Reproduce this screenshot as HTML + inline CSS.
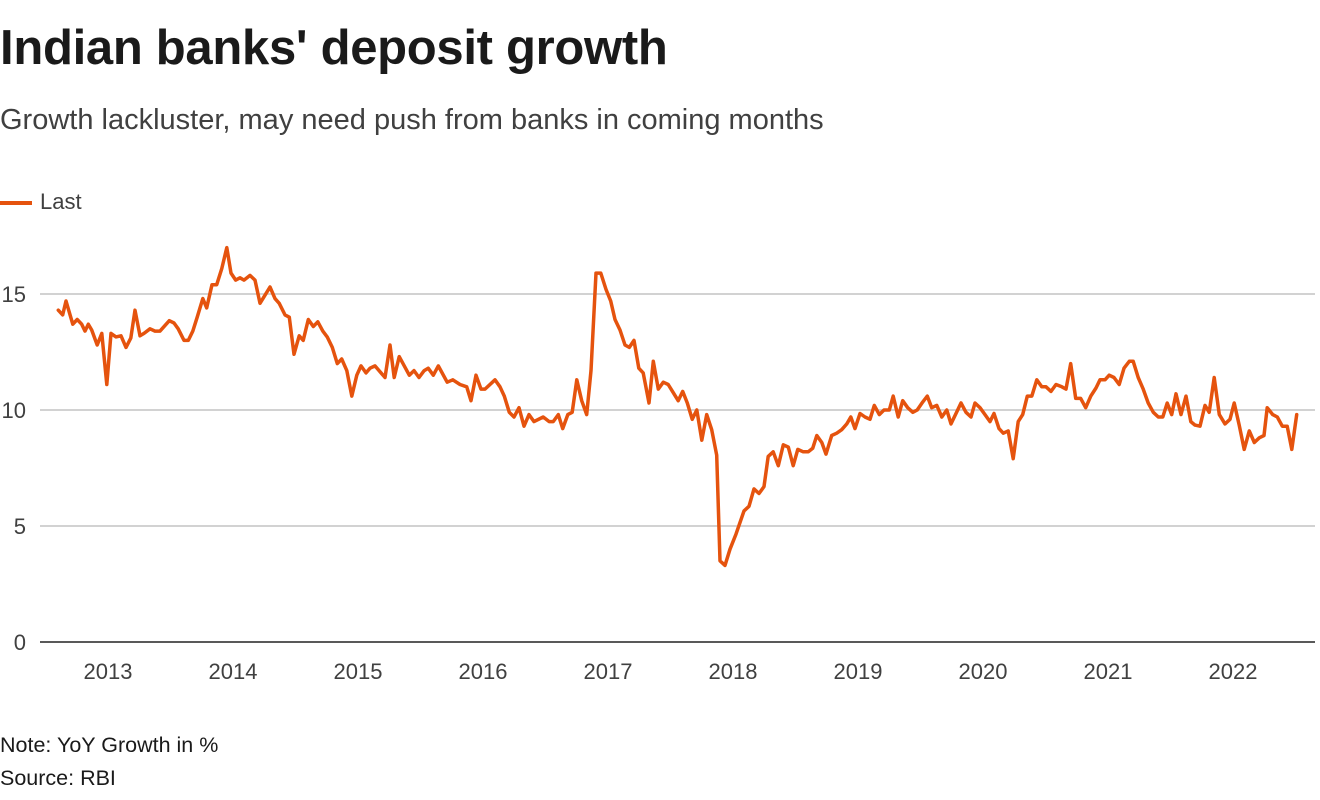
<!DOCTYPE html>
<html><head><meta charset="utf-8"><style>
body{margin:0;background:#fff;font-family:"Liberation Sans",sans-serif;color:#1a1a1a}
#wrap{position:relative;width:1320px;height:800px;overflow:hidden}
.t{position:absolute;white-space:nowrap}
</style></head><body>
<div id="wrap">
<div class="t" style="left:0;top:20px;font-size:49px;font-weight:bold;letter-spacing:-0.3px">Indian banks' deposit growth</div>
<div class="t" style="left:0;top:104px;font-size:29px;color:#404040">Growth lackluster, may need push from banks in coming months</div>
<div class="t" style="left:0;top:189px;font-size:22px;color:#404040"><span style="display:inline-block;width:32px;height:4px;background:#e5530e;vertical-align:middle;margin-right:8px"></span>Last</div>
<svg id="chart" width="1320" height="800" style="position:absolute;left:0;top:0"></svg>
<div class="t" style="left:0;top:733px;font-size:21.5px">Note: YoY Growth in %</div>
<div class="t" style="left:0;top:766px;font-size:21.5px">Source: RBI</div>
</div>
<script>
const dates=[2012.602,2012.638,2012.664,2012.718,2012.754,2012.790,2012.816,2012.842,2012.870,2012.914,2012.950,2012.990,2013.024,2013.064,2013.104,2013.144,2013.182,2013.216,2013.256,2013.288,2013.336,2013.376,2013.416,2013.490,2013.528,2013.562,2013.608,2013.642,2013.678,2013.714,2013.758,2013.790,2013.832,2013.870,2013.910,2013.950,2013.984,2014.022,2014.056,2014.088,2014.136,2014.176,2014.216,2014.250,2014.296,2014.336,2014.370,2014.416,2014.450,2014.488,2014.530,2014.562,2014.602,2014.642,2014.678,2014.718,2014.754,2014.794,2014.834,2014.870,2014.910,2014.950,2014.990,2015.024,2015.064,2015.096,2015.136,2015.216,2015.256,2015.290,2015.330,2015.410,2015.448,2015.488,2015.530,2015.562,2015.602,2015.642,2015.714,2015.758,2015.816,2015.870,2015.904,2015.944,2015.984,2016.016,2016.096,2016.136,2016.170,2016.210,2016.248,2016.288,2016.328,2016.368,2016.408,2016.482,2016.530,2016.562,2016.602,2016.638,2016.678,2016.714,2016.750,2016.790,2016.830,2016.864,2016.904,2016.942,2016.984,2017.022,2017.056,2017.096,2017.136,2017.170,2017.208,2017.246,2017.282,2017.328,2017.362,2017.402,2017.442,2017.482,2017.522,2017.562,2017.598,2017.634,2017.674,2017.710,2017.750,2017.790,2017.830,2017.870,2017.896,2017.936,2017.976,2018.024,2018.088,2018.128,2018.168,2018.208,2018.248,2018.282,2018.322,2018.362,2018.402,2018.442,2018.482,2018.518,2018.562,2018.602,2018.638,2018.670,2018.710,2018.744,2018.790,2018.830,2018.870,2018.910,2018.942,2018.976,2019.016,2019.056,2019.096,2019.130,2019.170,2019.208,2019.250,2019.282,2019.322,2019.358,2019.398,2019.438,2019.474,2019.518,2019.554,2019.590,2019.630,2019.670,2019.710,2019.744,2019.784,2019.824,2019.864,2019.904,2019.936,2019.976,2020.016,2020.056,2020.088,2020.128,2020.162,2020.202,2020.242,2020.282,2020.318,2020.354,2020.390,2020.430,2020.470,2020.504,2020.544,2020.584,2020.630,2020.664,2020.702,2020.742,2020.782,2020.822,2020.862,2020.904,2020.936,2020.976,2021.010,2021.048,2021.090,2021.128,2021.170,2021.202,2021.242,2021.282,2021.322,2021.362,2021.402,2021.438,2021.474,2021.510,2021.544,2021.584,2021.624,2021.662,2021.696,2021.736,2021.776,2021.810,2021.850,2021.890,2021.936,2021.976,2022.010,2022.050,2022.090,2022.130,2022.170,2022.210,2022.248,2022.274,2022.318,2022.354,2022.394,2022.434,2022.470,2022.510];
const values=[14.3,14.1,14.7,13.7,13.9,13.7,13.4,13.7,13.45,12.8,13.3,11.1,13.3,13.15,13.2,12.7,13.1,14.3,13.2,13.3,13.5,13.4,13.4,13.85,13.75,13.5,13.0,13.0,13.4,14.0,14.8,14.4,15.4,15.4,16.1,17.0,15.9,15.6,15.7,15.6,15.8,15.6,14.6,14.9,15.3,14.8,14.6,14.1,14.0,12.4,13.2,13.0,13.9,13.6,13.8,13.4,13.15,12.7,12.0,12.2,11.7,10.6,11.5,11.9,11.6,11.8,11.9,11.4,12.8,11.4,12.3,11.5,11.7,11.4,11.7,11.8,11.5,11.9,11.2,11.3,11.1,11.0,10.4,11.5,10.9,10.9,11.3,11.0,10.6,9.9,9.7,10.1,9.3,9.8,9.5,9.7,9.5,9.5,9.8,9.2,9.8,9.9,11.3,10.4,9.8,11.7,15.9,15.9,15.2,14.7,13.9,13.45,12.8,12.7,13.0,11.8,11.6,10.3,12.1,10.9,11.2,11.1,10.75,10.4,10.8,10.3,9.6,10.0,8.7,9.8,9.15,8.05,3.5,3.3,4.0,4.65,5.65,5.85,6.6,6.4,6.7,8.0,8.2,7.6,8.5,8.4,7.6,8.3,8.2,8.2,8.35,8.9,8.6,8.1,8.9,9.0,9.15,9.4,9.7,9.2,9.85,9.7,9.6,10.2,9.8,10.0,10.0,10.6,9.7,10.4,10.1,9.9,10.0,10.35,10.6,10.1,10.2,9.7,10.0,9.4,9.85,10.3,9.9,9.7,10.3,10.1,9.8,9.5,9.85,9.2,9.0,9.1,7.9,9.5,9.8,10.6,10.6,11.3,11.0,11.0,10.8,11.1,11.0,10.9,12.0,10.5,10.5,10.1,10.6,10.95,11.3,11.3,11.5,11.4,11.1,11.8,12.1,12.1,11.4,10.9,10.3,9.9,9.7,9.7,10.3,9.8,10.7,9.8,10.6,9.5,9.35,9.3,10.2,9.9,11.4,9.8,9.4,9.6,10.3,9.35,8.3,9.1,8.6,8.8,8.9,10.1,9.8,9.7,9.3,9.3,8.3,9.8];
const yTicks=[0,5,10,15];
const xTicks=[2013,2014,2015,2016,2017,2018,2019,2020,2021,2022];

const NS='http://www.w3.org/2000/svg';
const svg=document.getElementById('chart');
function xs(t){return 108+(t-2013)*125;}
function ys(v){return 642-v*23.2;}
function mk(tag,attrs){const e=document.createElementNS(NS,tag);for(const k in attrs)e.setAttribute(k,attrs[k]);svg.appendChild(e);return e;}
yTicks.forEach(v=>{
  if(v>0){const g=mk('line',{x1:40,x2:1315,y1:ys(v),y2:ys(v),stroke:'#c4c4c4','stroke-width':1.5});
  
  }
  const t=mk('text',{x:26,y:ys(v)+8,'text-anchor':'end','font-size':22,fill:'#404040','font-family':'Liberation Sans, sans-serif'});
  t.textContent=v;
  
  
});
const ax=mk('line',{x1:40,x2:1315,y1:642,y2:642,stroke:'#222','stroke-width':1.5});


xTicks.forEach(y=>{
  const t=mk('text',{x:xs(y),y:679,'text-anchor':'middle','font-size':22,fill:'#404040','font-family':'Liberation Sans, sans-serif'});
  t.textContent=y;
  
  
});
let d='';
dates.forEach((t,i)=>{d+=(i?'L':'M')+xs(t).toFixed(1)+','+ys(values[i]).toFixed(1);});
const p=mk('path',{d:d,fill:'none',stroke:'#e5530e','stroke-width':3.5,'stroke-linejoin':'round','stroke-linecap':'round'});


</script>
</body></html>
